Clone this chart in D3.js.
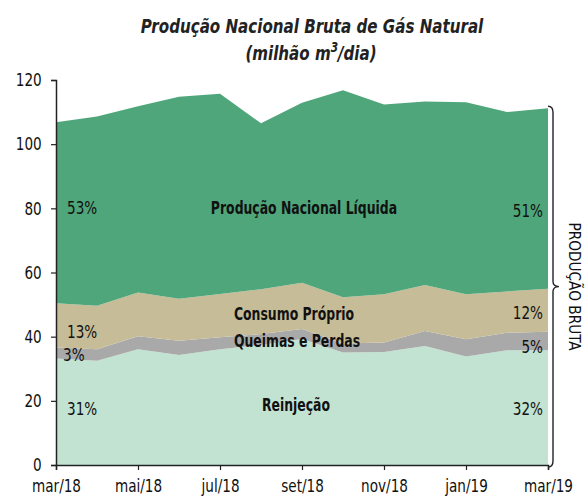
<!DOCTYPE html>
<html><head><meta charset="utf-8">
<script src="https://cdn.jsdelivr.net/npm/d3@7"></script>
<style>
body{margin:0;background:#fff;}
text{font-family:"DejaVu Sans Condensed","Liberation Sans Narrow","Roboto",sans-serif;}
</style></head>
<body><svg id="c" width="586" height="500"></svg>
<script>
const months = ["mar/18","abr/18","mai/18","jun/18","jul/18","ago/18","set/18","out/18","nov/18","dez/18","jan/19","fev/19","mar/19"];
const reinjecao = [33.2,32.5,36.1,34.3,36.1,37.4,39.3,35.1,35.2,37.1,33.8,35.8,35.8];
const queimas   = [3.4,3.6,4.0,4.4,3.7,3.4,3.1,2.8,3.0,4.7,5.4,5.4,5.7];
const consumo   = [13.8,13.5,13.7,13.1,13.5,14.0,14.4,14.4,15.0,14.3,14.0,12.9,13.4];
const liquida   = [56.4,59.0,58.0,63.0,62.4,51.7,56.1,64.5,59.2,57.2,59.9,55.9,56.3];
const yTicks = [0,20,40,60,80,100,120];
const xTickLabels = ["mar/18","mai/18","jul/18","set/18","nov/18","jan/19","mar/19"];
const seriesNames = ["Reinjeção","Queimas e Perdas","Consumo Próprio","Produção Nacional Líquida"];
const colors = ["#c2e3d2","#a9a9a9","#c6bd98","#4fa67a"];
const startPct = ["31%","3%","13%","53%"];
const endPct = ["32%","5%","12%","51%"];

const SX = 0.84;
const svg = d3.select("#c");
const x = d3.scalePoint().domain(months).range([56,548]);
const y = d3.scaleLinear().domain([0,120]).range([465,80]);

const rows = months.map((m,i)=>({m, s0:reinjecao[i], s1:queimas[i], s2:consumo[i], s3:liquida[i]}));
const stack = d3.stack().keys(["s0","s1","s2","s3"])(rows);
const area = d3.area().x(d=>x(d.data.m)).y0(d=>y(d[0])).y1(d=>y(d[1]));
svg.selectAll("path.a").data(stack).join("path").attr("class","a")
  .attr("d",area).attr("fill",(d,i)=>colors[i]);

// axes
const yAxis = svg.append("g").attr("transform","translate(56,0)")
  .call(d3.axisLeft(y).tickValues(yTicks).tickSize(5).tickPadding(12));
const xAxis = svg.append("g").attr("transform","translate(0,465)")
  .call(d3.axisBottom(x).tickValues(xTickLabels).tickSize(5).tickPadding(9));
[yAxis,xAxis].forEach(g=>{
  g.select(".domain").attr("stroke","#222").attr("stroke-width",1.5);
  g.selectAll(".tick line").attr("stroke","#222").attr("stroke-width",1.2);
  g.selectAll("text").attr("font-size",18).attr("fill","#111")
   .attr("transform",`scale(${SX},1)`)
   .attr("font-family",'"DejaVu Sans Condensed",sans-serif');
});

function txt(px, py, s, opts){
  const el = svg.append("text").attr("transform",`translate(${px},${py}) scale(${opts.sx||SX},1)`)
    .attr("text-anchor",opts.anchor||"start").attr("font-size",opts.size||18).attr("fill","#111");
  if(opts.bold) el.attr("font-weight","bold");
  if(opts.italic) el.attr("font-style","italic");
  el.text(s);
  return el;
}

// title
txt(312,33,"Produção Nacional Bruta de Gás Natural",{anchor:"middle",size:20,bold:true,italic:true}).attr("fill","#222");
const t2 = txt(311,60,"",{anchor:"middle",size:20,bold:true,italic:true}).attr("fill","#222");
t2.append("tspan").text("(milhão m");
t2.append("tspan").attr("font-size",14).attr("dy",-8).text("3");
t2.append("tspan").attr("dy",8).text("/dia)");

const labels = [
  {t:"Reinjeção", x:296, y:y(20)+10},
  {t:"Queimas e Perdas", x:297, y:y(38.5)+6},
  {t:"Consumo Próprio", x:294, y:y(47)+6},
  {t:"Produção Nacional Líquida", x:304, y:y(80)+6}
];
labels.forEach(d=>txt(d.x,d.y,d.t,{anchor:"middle",size:17.5,bold:true,sx:0.79}));

const pctY = [y(17.5)+6, y(34.2)+6, y(41.5)+6, y(80)+6];
const pctYEnd = [y(17.5)+6, y(36.7)+6, y(47.5)+6, y(79.2)+6];
startPct.forEach((d,i)=>txt(i===1?63:67, pctY[i], d, {size:18}));
endPct.forEach((d,i)=>txt(543, pctYEnd[i], d, {size:18, anchor:"end"}));

// brace
const bTop = y(d3.sum([reinjecao,queimas,consumo,liquida],a=>a[12]))-2, bBot = 467;
const bMid = (bTop+bBot)/2, bx=553;
svg.append("path").attr("fill","none").attr("stroke","#222").attr("stroke-width",1.4)
  .attr("d",`M548,${bTop} Q${bx},${bTop} ${bx},${bTop+6} L${bx},${bMid-5} Q${bx},${bMid} ${bx+6},${bMid} Q${bx},${bMid} ${bx},${bMid+5} L${bx},${bBot-6} Q${bx},${bBot} 548,${bBot}`);
svg.append("text").attr("transform",`translate(569,${bMid}) rotate(90) scale(0.95,1)`).attr("text-anchor","middle")
  .attr("font-size",16).attr("fill","#111").text("PRODUÇÃO BRUTA");
</script></body></html>
